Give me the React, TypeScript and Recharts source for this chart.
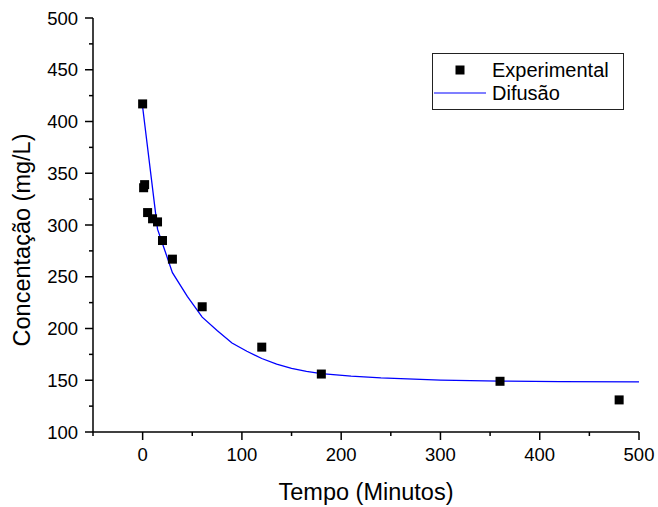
import React from 'react';
import { ComposedChart, Line, Scatter, XAxis, YAxis, Legend } from 'recharts';

// Experimental points
const expTime = [0, 1, 2, 5, 10, 15, 20, 30, 60, 120, 180, 360, 480];
const expConc = [417, 336, 339, 312, 306, 303, 285, 267, 221, 182, 156, 149, 131];

// Diffusion model curve
const fitTime = [0, 15, 30, 45, 60, 75, 90, 105, 120, 135, 150, 165, 180, 210, 240, 300, 360, 420, 500];
const fitConc = [414, 296, 254, 231, 211, 198, 186, 178, 171, 165.5, 161.5, 158.5, 156.5, 154, 152.3, 150.2, 149.2, 148.7, 148.4];

const xTicks = [-50, 0, 50, 100, 150, 200, 250, 300, 350, 400, 450, 500];
const xMajor = [0, 100, 200, 300, 400, 500];
const yTicks = [100, 125, 150, 175, 200, 225, 250, 275, 300, 325, 350, 375, 400, 425, 450, 475, 500];
const yMajor = [100, 150, 200, 250, 300, 350, 400, 450, 500];

const seriesExp = 'Experimental';
const seriesFit = 'Difusão';
const xTitle = 'Tempo (Minutos)';
const yTitle = 'Concentação (mg/L)';

const expData = expTime.map((t, i) => ({ t, c: expConc[i] }));
const fitData = fitTime.map((t, i) => ({ t, c: fitConc[i] }));

const FONT = '"Liberation Sans", Arial, Helvetica, sans-serif';
const TICK = 8;
const MINOR = 4;
const YMARGIN = 7;
const XMARGIN = 8;
const TICK_FS = 18.5;
const TITLE_FS = 23.5;

const YTick = (props: any) => {
  const { x, y, payload } = props;
  const v = payload.value;
  const major = yMajor.includes(v);
  const axisX = x + YMARGIN + TICK;
  return (
    <g>
      <line x1={axisX - (major ? TICK : MINOR)} x2={axisX} y1={y} y2={y} stroke="#000" strokeWidth={1.5} />
      {major && (
        <text x={x} y={y} dy="0.36em" textAnchor="end" fontSize={TICK_FS} fontFamily={FONT} fill="#000">
          {v}
        </text>
      )}
    </g>
  );
};

const XTick = (props: any) => {
  const { x, y, payload } = props;
  const v = payload.value;
  const major = xMajor.includes(v);
  const axisY = y - XMARGIN - TICK;
  return (
    <g>
      <line x1={x} x2={x} y1={axisY} y2={axisY + (major ? TICK : MINOR)} stroke="#000" strokeWidth={1.5} />
      {major && (
        <text x={x} y={y} dy="0.71em" textAnchor="middle" fontSize={TICK_FS} fontFamily={FONT} fill="#000">
          {v}
        </text>
      )}
    </g>
  );
};

const XLabel = (props: any) => {
  const vb = props.viewBox || { x: 93, y: 432, width: 546, height: 75 };
  const cx = vb.x + vb.width / 2;
  return (
    <text x={cx} y={vb.y + 68} textAnchor="middle" fontSize={TITLE_FS} fontFamily={FONT} fill="#000">
      {xTitle}
    </text>
  );
};

const YLabel = (props: any) => {
  const vb = props.viewBox || { x: 0, y: 18, width: 93, height: 414 };
  const cx = vb.x + 30;
  const cy = vb.y + vb.height / 2 + 15;
  return (
    <text
      x={cx}
      y={cy}
      transform={`rotate(-90 ${cx} ${cy})`}
      textAnchor="middle"
      fontSize={TITLE_FS}
      fontFamily={FONT}
      fill="#000"
    >
      {yTitle}
    </text>
  );
};

const Square = (props: any) => {
  const { cx, cy } = props;
  return <rect x={cx - 4.5} y={cy - 4.5} width={9} height={9} fill="#000" />;
};

const LegendBox = () => (
  <svg width={192} height={57} style={{ display: 'block' }}>
    <rect x={0.5} y={0.5} width={191} height={56} fill="#fff" stroke="#222" strokeWidth={1} />
    <rect x={23.5} y={12.5} width={9} height={9} fill="#000" />
    <text x={60} y={23.5} fontSize={20} fontFamily={FONT} fill="#000">
      {seriesExp}
    </text>
    <line x1={2} x2={54} y1={40} y2={40} stroke="#0000ff" strokeWidth={1.2} />
    <text x={60} y={47} fontSize={20} fontFamily={FONT} fill="#000">
      {seriesFit}
    </text>
  </svg>
);

export default function App() {
  return (
    <div style={{ position: 'absolute', left: 0, top: 0, width: 658, height: 507, background: '#fff' }}>
      <ComposedChart width={658} height={507} margin={{ top: 18, right: 19, bottom: 0, left: 0 }}>
        <XAxis
          type="number"
          dataKey="t"
          domain={[-50, 500]}
          ticks={xTicks}
          interval={0}
          height={75}
          tickSize={TICK}
          tickMargin={XMARGIN}
          tickLine={false}
          axisLine={{ stroke: '#000', strokeWidth: 1.5 }}
          tick={<XTick />}
          label={XLabel}
          allowDataOverflow
        />
        <YAxis
          type="number"
          dataKey="c"
          domain={[100, 500]}
          ticks={yTicks}
          interval={0}
          width={93}
          tickSize={TICK}
          tickMargin={YMARGIN}
          tickLine={false}
          axisLine={{ stroke: '#000', strokeWidth: 1.5 }}
          tick={<YTick />}
          label={YLabel}
          allowDataOverflow
        />
        <Line
          data={fitData}
          dataKey="c"
          name={seriesFit}
          type="linear"
          stroke="#0000ff"
          strokeWidth={1.3}
          dot={false}
          activeDot={false}
          isAnimationActive={false}
        />
        <Scatter
          data={expData}
          dataKey="c"
          name={seriesExp}
          fill="#000"
          shape={Square}
          isAnimationActive={false}
        />
        <Legend
          layout="vertical"
          align="center"
          verticalAlign="middle"
          wrapperStyle={{ position: 'absolute', left: 432, top: 53, width: 192, height: 57 }}
          content={() => <LegendBox />}
        />
      </ComposedChart>
    </div>
  );
}
